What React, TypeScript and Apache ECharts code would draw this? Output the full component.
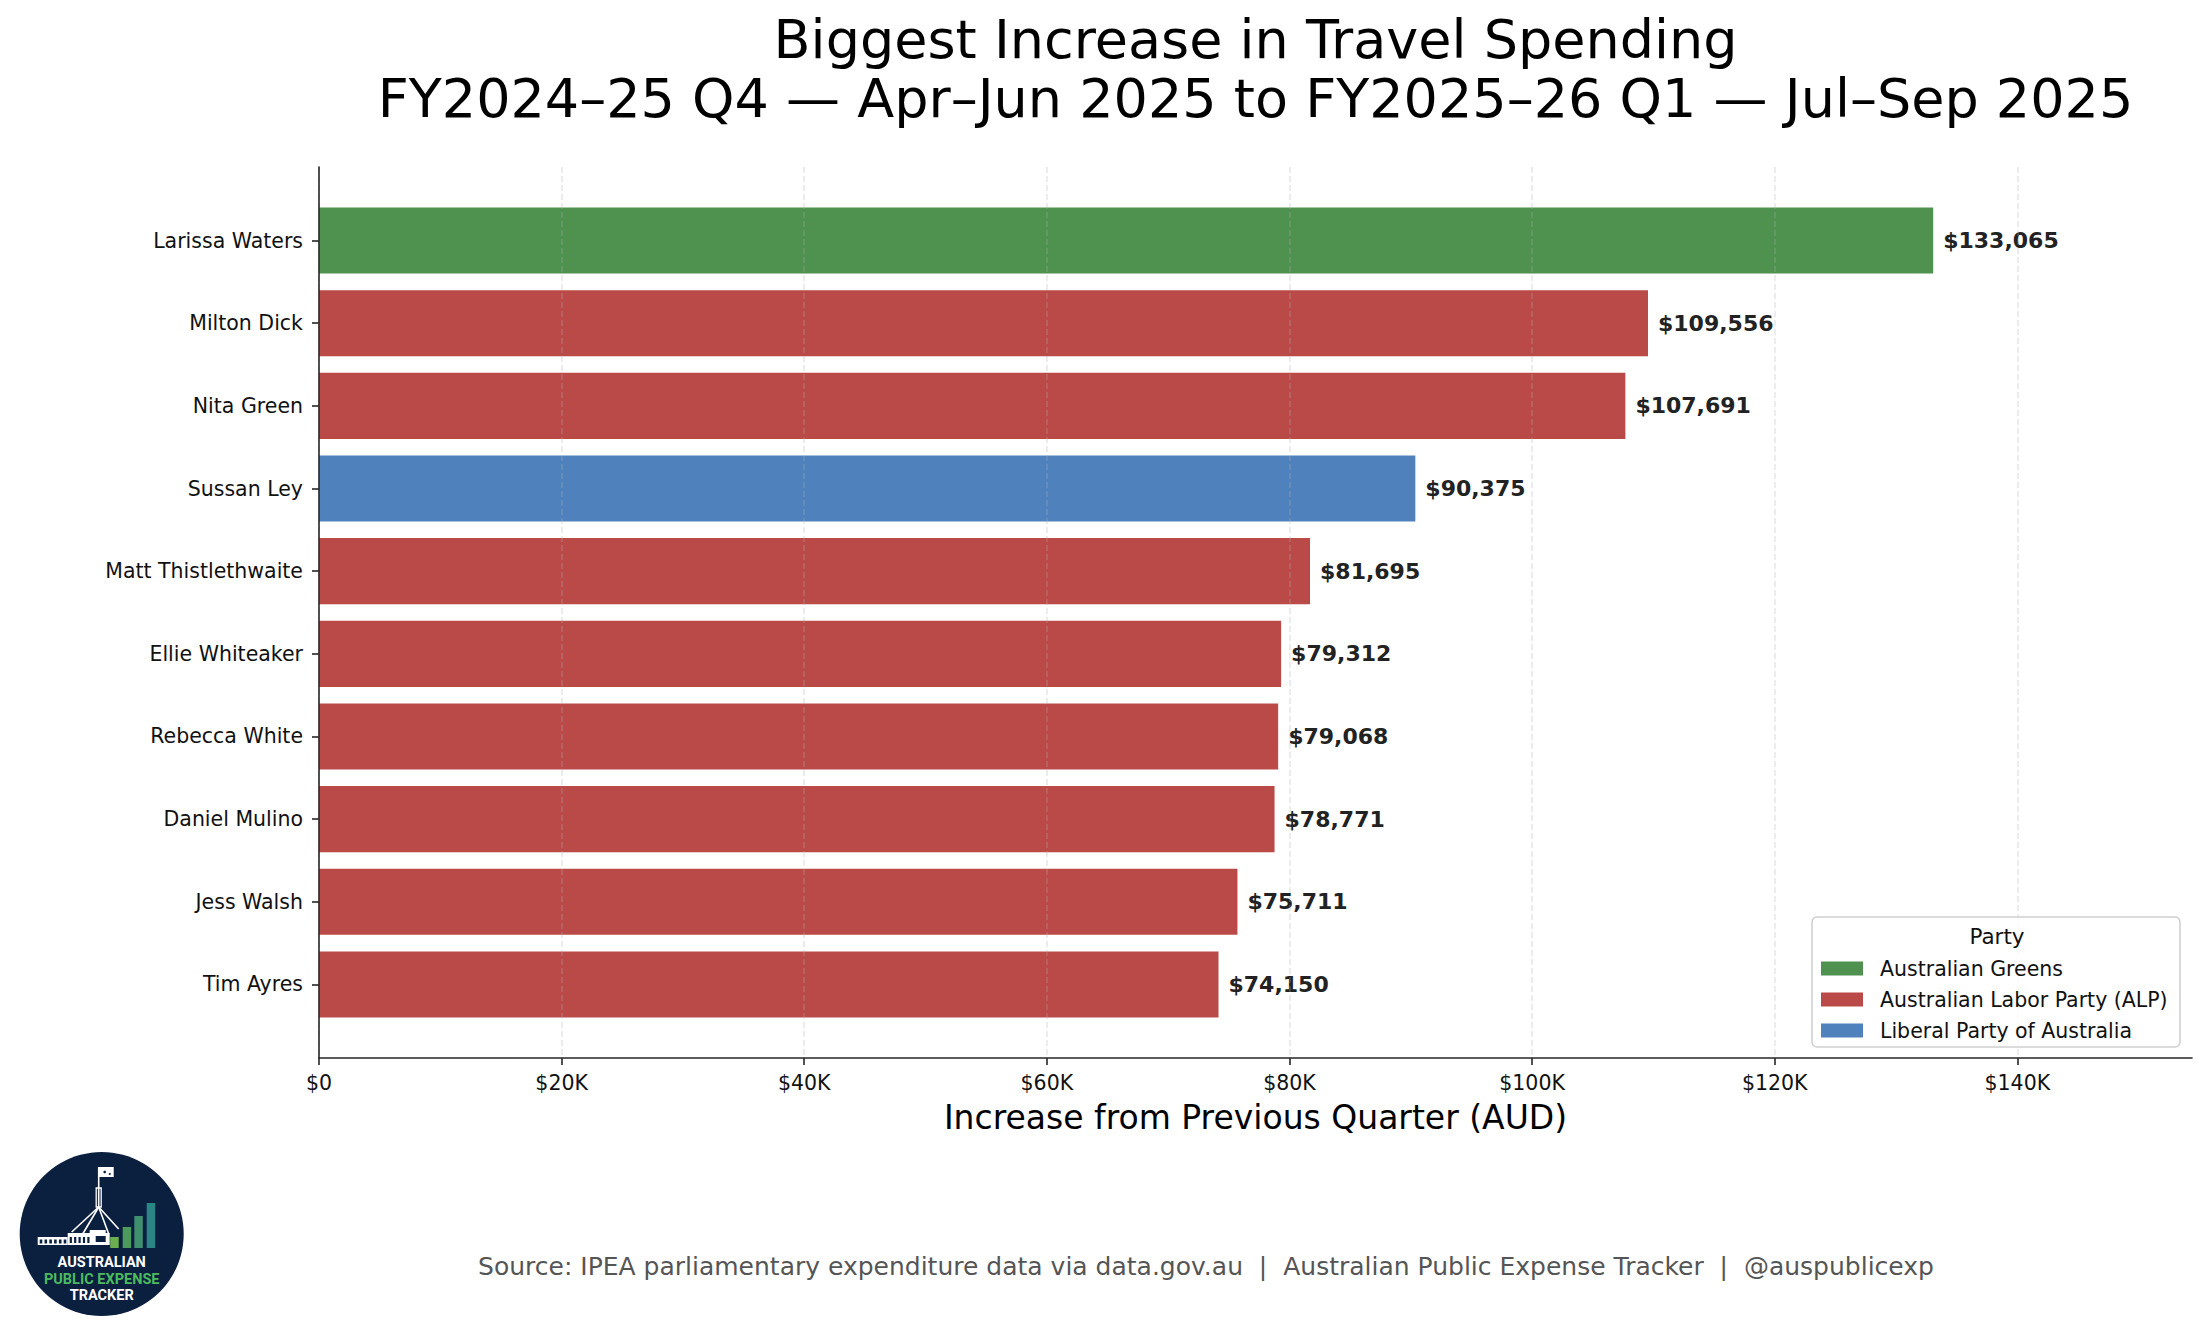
import { useEffect, useRef } from 'react';
import * as echarts from 'echarts';

const names = [
  'Larissa Waters',
  'Milton Dick',
  'Nita Green',
  'Sussan Ley',
  'Matt Thistlethwaite',
  'Ellie Whiteaker',
  'Rebecca White',
  'Daniel Mulino',
  'Jess Walsh',
  'Tim Ayres',
];
const values = [133065, 109556, 107691, 90375, 81695, 79312, 79068, 78771, 75711, 74150];
const partyOf = [
  'Australian Greens',
  'Australian Labor Party (ALP)',
  'Australian Labor Party (ALP)',
  'Liberal Party of Australia',
  'Australian Labor Party (ALP)',
  'Australian Labor Party (ALP)',
  'Australian Labor Party (ALP)',
  'Australian Labor Party (ALP)',
  'Australian Labor Party (ALP)',
  'Australian Labor Party (ALP)',
];
const parties = ['Australian Greens', 'Australian Labor Party (ALP)', 'Liberal Party of Australia'];
const partyColors = ['#4f914f', '#b94a48', '#4f81bd'];
const xTicks = [0, 20000, 40000, 60000, 80000, 100000, 120000, 140000];

const TITLE_1 = 'Biggest Increase in Travel Spending';
const TITLE_2 = 'FY2024–25 Q4 — Apr–Jun 2025 to FY2025–26 Q1 — Jul–Sep 2025';
const X_TITLE = 'Increase from Previous Quarter (AUD)';
const FOOTER = 'Source: IPEA parliamentary expenditure data via data.gov.au  |  Australian Public Expense Tracker  |  @auspublicexp';

const W = 2205;
const H = 1337;
const FONT = 'DejaVu Sans';
// axes box (matplotlib-like frame)
const AX_L = 319;
const AX_R = 2192;
const AX_T = 167;
const AX_B = 1058;
const X_MAX = 154400;
const GRID_MAX = 140000;

const fmtK = (v: number) => (v === 0 ? '$0' : `$${v / 1000}K`);

function logo(cx: number, cy: number) {
  const navy = '#0b1f3f';
  const white = '#ffffff';
  const children: any[] = [
    { type: 'circle', shape: { cx: 0, cy: 0, r: 82 }, style: { fill: navy } },
    // flag + pole
    { type: 'rect', shape: { x: -3, y: -67, width: 15, height: 10 }, style: { fill: white } },
    { type: 'circle', shape: { cx: 3, cy: -62, r: 1.3 }, style: { fill: navy } },
    { type: 'circle', shape: { cx: 8, cy: -60, r: 1 }, style: { fill: navy } },
    { type: 'line', shape: { x1: -3, y1: -67, x2: -3, y2: -27 }, style: { stroke: white, lineWidth: 1.6 } },
    { type: 'rect', shape: { x: -5.5, y: -46, width: 5, height: 19 }, style: { fill: 'none', stroke: white, lineWidth: 1.3 } },
    // legs
    { type: 'line', shape: { x1: -3, y1: -27, x2: -30, y2: -2 }, style: { stroke: white, lineWidth: 1.6 } },
    { type: 'line', shape: { x1: -3, y1: -27, x2: -19, y2: 0 }, style: { stroke: white, lineWidth: 1.6 } },
    { type: 'line', shape: { x1: -3, y1: -27, x2: 7, y2: 0 }, style: { stroke: white, lineWidth: 1.6 } },
    { type: 'line', shape: { x1: -3, y1: -27, x2: 17, y2: -5 }, style: { stroke: white, lineWidth: 1.6 } },
    // building
    { type: 'rect', shape: { x: -64, y: 3, width: 30, height: 8 }, style: { fill: white } },
    { type: 'rect', shape: { x: -34, y: -1, width: 42, height: 12 }, style: { fill: white } },
    { type: 'rect', shape: { x: -12, y: -4, width: 16, height: 4 }, style: { fill: white } },
  ];
  for (let i = 0; i < 6; i++) {
    children.push({ type: 'rect', shape: { x: -62 + i * 4.8, y: 5.5, width: 2.6, height: 4 }, style: { fill: navy } });
  }
  for (let i = 0; i < 5; i++) {
    children.push({ type: 'rect', shape: { x: -32 + i * 4.4, y: 3, width: 2.2, height: 6 }, style: { fill: navy } });
  }
  children.push({ type: 'rect', shape: { x: -6, y: 2, width: 10, height: 6 }, style: { fill: navy } });
  // rising bars
  const bars = [
    { x: 8.5, h: 11, c: '#6ab04c' },
    { x: 21, h: 21, c: '#4e9a5c' },
    { x: 32.6, h: 32, c: '#3f8e6e' },
    { x: 45, h: 45, c: '#2b8585' },
  ];
  bars.forEach((b) => {
    children.push({ type: 'rect', shape: { x: b.x, y: 14 - b.h, width: 8.5, height: b.h }, style: { fill: b.c } });
  });
  const t = (text: string, y: number, fill: string) => ({
    type: 'text',
    x: 0,
    y,
    style: {
      text,
      fill,
      font: 'bold 14.5px Roboto',
      textAlign: 'center',
      textVerticalAlign: 'middle',
    },
  });
  children.push(t('AUSTRALIAN', 28.5, white));
  children.push(t('PUBLIC EXPENSE', 45, '#4cbb5f'));
  children.push(t('TRACKER', 61, white));
  return { type: 'group', x: cx, y: cy, children };
}

export default function App() {
  const divRef = useRef<HTMLDivElement>(null);

  useEffect(() => {
    if (!divRef.current) return;
    const chart = echarts.init(divRef.current, undefined, { renderer: 'svg' });

    const plotW = AX_R - AX_L;
    // matplotlib category layout: bars 0.8 tall, 5% margins on the data span
    const n = names.length;
    const band = (AX_B - AX_T) / (n - 1 + 0.8 + (n - 1 + 0.8) * 0.1);
    const barTop = AX_T + (band * (n - 1 + 0.8) * 0.05 + 0.4 * band) - 0.5 * band;
    const barBottom = AX_B - (band * (n - 1 + 0.8) * 0.05 + 0.4 * band) + 0.5 * band;
    // gridline layer ends exactly at the last tick so no extra line at the axis end
    const gridRight = W - (AX_L + (plotW * GRID_MAX) / X_MAX);

    const series = parties.map((p, k) => ({
      name: p,
      type: 'bar',
      xAxisIndex: 0,
      yAxisIndex: 0,
      barWidth: '80%',
      barGap: '-100%',
      z: 2,
      itemStyle: { color: partyColors[k] },
      data: values.map((v, i) => (partyOf[i] === p ? v : '-')),
      label: {
        show: true,
        position: 'right',
        distance: 10,
        fontFamily: FONT,
        fontSize: 22,
        fontWeight: 'bold',
        color: '#222222',
        formatter: (d: any) => `$${Number(d.value).toLocaleString('en-US')}`,
      },
    }));

    chart.setOption({
      animation: false,
      textStyle: { fontFamily: FONT },
      grid: [
        { left: AX_L, right: W - AX_R, top: barTop, bottom: H - barBottom },
        { left: AX_L, right: W - AX_R, top: AX_T, bottom: H - AX_B },
        { left: AX_L, right: gridRight, top: AX_T, bottom: H - AX_B },
      ],
      xAxis: [
        { gridIndex: 0, type: 'value', min: 0, max: X_MAX, show: false },
        {
          gridIndex: 1,
          type: 'value',
          min: 0,
          max: X_MAX,
          interval: 20000,
          z: 4,
          axisLine: { show: true, lineStyle: { color: '#262626', width: 1.6 } },
          axisTick: { show: true, length: 7, customValues: xTicks, lineStyle: { color: '#262626', width: 1.6 } },
          axisLabel: {
            customValues: xTicks,
            margin: 14,
            fontFamily: FONT,
            fontSize: 20.5,
            color: '#111111',
            formatter: fmtK,
          },
          splitLine: { show: false },
        },
        {
          gridIndex: 2,
          type: 'value',
          min: 0,
          max: GRID_MAX,
          interval: 20000,
          z: 3,
          axisLine: { show: false },
          axisTick: { show: false },
          axisLabel: { show: false },
          splitLine: {
            show: true,
            lineStyle: { color: 'rgba(176,176,176,0.3)', width: 1.6, type: [6, 3] },
          },
        },
      ],
      yAxis: [
        {
          gridIndex: 0,
          type: 'category',
          inverse: true,
          data: names,
          axisLine: { show: false },
          axisTick: { show: true, length: 7, alignWithLabel: true, lineStyle: { color: '#262626', width: 1.6 } },
          axisLabel: { margin: 16, fontFamily: FONT, fontSize: 20.5, color: '#111111' },
          splitLine: { show: false },
        },
        {
          gridIndex: 1,
          type: 'value',
          min: 0,
          max: 1,
          z: 4,
          axisLine: { show: true, lineStyle: { color: '#262626', width: 1.6 } },
          axisTick: { show: false },
          axisLabel: { show: false },
          splitLine: { show: false },
        },
        { gridIndex: 2, type: 'value', min: 0, max: 1, show: false, splitLine: { show: false } },
      ],
      legend: {
        orient: 'vertical',
        left: 1821,
        top: 958,
        padding: 0,
        itemWidth: 42,
        itemHeight: 14,
        itemGap: 10,
        icon: 'rect',
        z: 20,
        data: parties,
        textStyle: {
          fontFamily: FONT,
          fontSize: 20.5,
          color: '#111111',
          lineHeight: 20,
          padding: [0, 0, 0, 12],
        },
      },
      graphic: [
        {
          type: 'text',
          x: (AX_L + AX_R) / 2,
          y: 39,
          style: { text: TITLE_1, font: `54px "${FONT}"`, fill: '#000', textAlign: 'center', textVerticalAlign: 'middle' },
        },
        {
          type: 'text',
          x: (AX_L + AX_R) / 2,
          y: 98,
          style: { text: TITLE_2, font: `54px "${FONT}"`, fill: '#000', textAlign: 'center', textVerticalAlign: 'middle' },
        },
        {
          type: 'text',
          x: (AX_L + AX_R) / 2,
          y: 1117,
          style: { text: X_TITLE, font: `33px "${FONT}"`, fill: '#000', textAlign: 'center', textVerticalAlign: 'middle' },
        },
        {
          type: 'text',
          x: 1206,
          y: 1266,
          style: { text: FOOTER, font: `25px "${FONT}"`, fill: '#555555', textAlign: 'center', textVerticalAlign: 'middle' },
        },
        {
          type: 'rect',
          z: 10,
          shape: { x: 1812, y: 917, width: 368, height: 130, r: 5 },
          style: { fill: 'rgba(255,255,255,0.8)', stroke: '#d0d0d0', lineWidth: 1.6 },
        },
        {
          type: 'text',
          z: 20,
          x: 1997,
          y: 936,
          style: { text: 'Party', font: `21.5px "${FONT}"`, fill: '#111', textAlign: 'center', textVerticalAlign: 'middle' },
        },
        logo(101.7, 1234),
      ],
      series,
    });

    return () => {
      chart.dispose();
    };
  }, []);

  return (
    <div
      ref={divRef}
      style={{ position: 'absolute', left: 0, top: 0, width: `${W}px`, height: `${H}px`, background: '#fff' }}
    />
  );
}
